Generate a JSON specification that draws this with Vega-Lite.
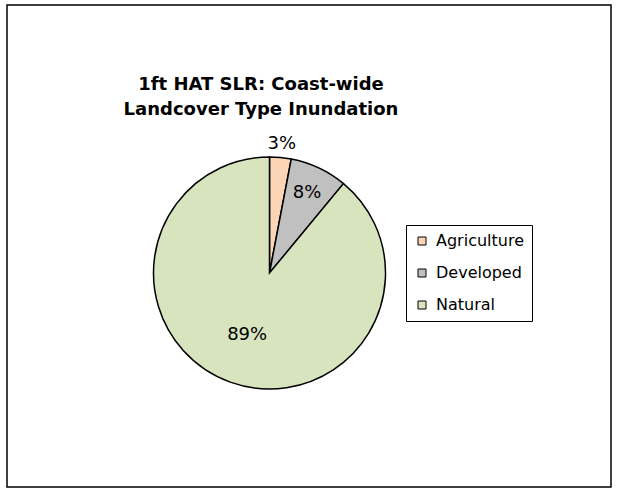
{
  "$schema": "https://vega.github.io/schema/vega-lite/v6.json",
  "autosize": "none",
  "width": 604,
  "height": 482,
  "padding": {"left": 7, "top": 5, "right": 6, "bottom": 2},
  "background": "white",
  "view": {"stroke": "black", "strokeWidth": 1.5},
  "title": {
    "text": ["1ft HAT SLR: Coast-wide", "Landcover Type Inundation"],
    "font": "DejaVu Sans",
    "fontSize": 18,
    "fontWeight": "bold",
    "color": "black",
    "lineHeight": 25,
    "anchor": "middle",
    "dx": -48,
    "offset": -114
  },
  "data": {
    "values": [
      {"category": "Agriculture", "share": 0.03},
      {"category": "Developed", "share": 0.08},
      {"category": "Natural", "share": 0.89}
    ]
  },
  "encoding": {
    "theta": {"field": "share", "type": "quantitative", "stack": true},
    "order": {"field": "category", "type": "ordinal", "sort": "ascending"}
  },
  "layer": [
    {
      "mark": {
        "type": "arc",
        "outerRadius": 116,
        "stroke": "black",
        "strokeWidth": 1.5,
        "x": {"expr": "width / 2 - 39.5"},
        "y": {"expr": "height / 2 + 27"}
      },
      "encoding": {
        "color": {
          "field": "category",
          "type": "nominal",
          "scale": {
            "domain": ["Agriculture", "Developed", "Natural"],
            "range": ["#FBD5B5", "#C0C0C0", "#D7E4BD"]
          },
          "legend": {
            "orient": "none",
            "legendX": 399,
            "legendY": 220,
            "title": null,
            "fillColor": "white",
            "strokeColor": "black",
            "padding": 8,
            "cornerRadius": 0,
            "symbolType": "square",
            "symbolSize": 64,
            "symbolStrokeColor": "black",
            "symbolStrokeWidth": 1,
            "labelFont": "DejaVu Sans",
            "labelFontSize": 16,
            "labelColor": "black",
            "labelOffset": 6,
            "rowPadding": 16
          }
        }
      }
    },
    {
      "mark": {
        "type": "text",
        "font": "DejaVu Sans",
        "fontSize": 18,
        "color": "black",
        "x": {"expr": "width / 2 - 39.5"},
        "y": {"expr": "height / 2 + 27"}
      },
      "encoding": {
        "text": {"field": "share", "type": "quantitative", "format": ".0%"},
        "radius": {
          "field": "share",
          "type": "quantitative",
          "scale": {
            "type": "linear",
            "zero": false,
            "domain": [0.03, 0.08, 0.89],
            "range": [130, 88, 66]
          }
        }
      }
    }
  ],
  "config": {
    "view": {"stroke": "black", "strokeWidth": 1.5}
  }
}
